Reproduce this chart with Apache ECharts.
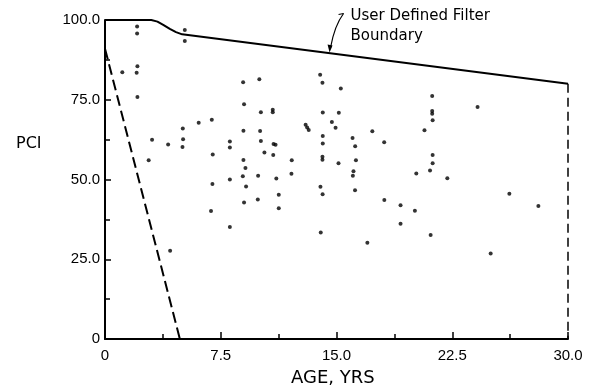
<!DOCTYPE html>
<html>
<head>
<meta charset="utf-8">
<script src="https://cdn.jsdelivr.net/npm/echarts/dist/echarts.min.js"></script>
<style>
  html, body { margin: 0; padding: 0; background: #fff; }
  #chart { width: 591px; height: 391px; }
</style>
</head>
<body>
<div id="chart"></div>
<script>
// pavement sections: age (yrs) vs PCI
const sectionPoints = [
  [1.12, 83.6], [2.08, 98.0], [2.08, 95.8], [2.10, 85.5], [2.05, 83.5], [2.10, 75.9],
  [2.83, 56.0], [3.05, 62.5], [4.09, 61.0], [4.22, 27.7],
  [5.17, 96.9], [5.17, 93.4], [5.04, 66.0], [5.06, 62.6], [5.02, 60.2],
  [6.07, 67.8], [6.92, 68.7], [6.98, 57.8], [6.96, 48.6], [6.87, 40.1],
  [8.09, 61.9], [8.09, 60.0], [8.09, 50.0], [8.09, 35.1],
  [8.95, 80.5], [9.01, 73.6], [8.97, 65.3], [8.97, 56.1], [9.10, 53.6], [8.93, 51.0],
  [9.14, 47.8], [9.01, 42.8],
  [10.0, 81.4], [10.05, 65.2], [10.1, 62.1], [9.92, 51.2], [9.90, 43.7], [10.1, 71.1],
  [10.87, 71.9], [10.87, 71.1], [10.92, 61.1], [11.05, 60.9], [10.33, 58.5], [10.9, 57.7],
  [11.1, 50.3], [11.26, 45.2], [11.26, 41.0],
  [12.1, 56.0], [12.08, 51.8],
  [13.0, 67.2], [13.1, 66.3], [13.2, 65.5],
  [13.94, 82.8], [14.09, 80.3], [15.28, 78.5], [14.11, 71.0], [15.15, 70.9],
  [14.7, 68.0], [14.94, 66.2], [17.32, 65.1], [14.11, 63.6], [14.11, 61.3],
  [16.04, 63.0], [16.21, 60.4], [18.09, 61.7], [14.09, 57.1], [14.09, 56.2],
  [15.13, 55.1], [16.26, 56.0], [16.1, 52.6], [16.06, 51.2], [20.17, 51.9],
  [13.96, 47.7], [14.1, 45.4], [16.2, 46.6], [18.1, 43.6], [19.15, 41.9], [20.08, 40.2],
  [13.98, 33.4], [17.0, 30.2], [19.15, 36.1],
  [21.2, 76.2], [24.14, 72.7], [21.2, 71.5], [21.2, 70.6], [21.23, 68.6], [20.7, 65.4],
  [21.23, 57.7], [21.23, 55.1], [21.06, 52.8], [22.18, 50.4], [21.1, 32.6],
  [24.99, 26.8], [26.2, 45.5], [28.08, 41.7]
];

// user defined filter boundary (upper)
const upperBoundary = [
  [0, 100], [3, 100], [3.4, 99.5], [3.8, 98.4], [4.2, 97.2], [4.6, 96.2], [5, 95.5], [30, 80]
];
// right edge of the filter
const rightBoundary = [[30, 80], [30, 0]];
// lower dashed boundary
const lowerBoundary = [[0, 91], [4.85, 0]];

const xTicks = [0, 7.5, 15, 22.5, 30];
const yTicks = [0, 25, 50, 75, 100];

const labelFont = { fontFamily: 'Liberation Sans', fontSize: 15, color: '#000' };

const myChart = echarts.init(document.getElementById('chart'));

const option = {
  animation: false,
  backgroundColor: '#fff',
  grid: { left: 105, right: 23, top: 20, bottom: 52 },
  xAxis: {
    type: 'value',
    min: xTicks[0],
    max: xTicks[xTicks.length - 1],
    interval: 7.5,
    splitLine: { show: false },
    axisLine: { show: true, lineStyle: { color: '#000', width: 2 } },
    axisTick: { show: true, inside: true, length: 7, lineStyle: { color: '#000', width: 1.5 } },
    minorTick: { show: true, splitNumber: 2, length: 5, lineStyle: { color: '#000', width: 1.5 } },
    axisLabel: {
      ...labelFont,
      margin: 9,
      formatter: v => (v === 0 ? '0' : v.toFixed(1))
    }
  },
  yAxis: {
    type: 'value',
    min: yTicks[0],
    max: yTicks[yTicks.length - 1],
    interval: 25,
    splitLine: { show: false },
    axisLine: { show: true, lineStyle: { color: '#000', width: 2 } },
    axisTick: { show: true, inside: true, length: 6, lineStyle: { color: '#000', width: 1.5 } },
    minorTick: { show: true, splitNumber: 2, length: 5, lineStyle: { color: '#000', width: 1.5 } },
    axisLabel: {
      ...labelFont,
      margin: 5,
      formatter: v => (v === 0 ? '0' : v.toFixed(1))
    }
  },
  series: [
    {
      type: 'scatter',
      data: sectionPoints,
      symbol: 'circle',
      symbolSize: 4,
      itemStyle: { color: '#000' }
    },
    {
      type: 'line',
      data: upperBoundary,
      showSymbol: false,
      smooth: false,
      lineStyle: { color: '#000', width: 2 }
    },
    {
      type: 'line',
      data: rightBoundary,
      showSymbol: false,
      lineStyle: { color: '#000', width: 1.5, type: [9, 5] }
    },
    {
      type: 'line',
      data: lowerBoundary,
      showSymbol: false,
      lineStyle: { color: '#000', width: 2, type: [11, 5] }
    }
  ]
};

myChart.setOption(option);

// annotation + axis names, anchored on the boundary line
const tip = myChart.convertToPixel({ gridIndex: 0 }, [14.55, 89.5]);
const leadTop = [tip[0] + 14, tip[1] - 40];
myChart.setOption({
  graphic: [
    {
      type: 'text',
      left: 16, top: 136,
      style: { text: 'PCI', font: '16px "DejaVu Sans"', fill: '#000' }
    },
    {
      type: 'text',
      left: 291, top: 369,
      style: { text: 'AGE, YRS', font: '18px "DejaVu Sans"', fill: '#000' }
    },
    {
      type: 'text',
      left: tip[0] + 21, top: tip[1] - 47,
      style: {
        text: 'User Defined Filter\nBoundary',
        font: '15px "DejaVu Sans"',
        lineHeight: 20,
        fill: '#000'
      }
    },
    {
      type: 'polyline',
      shape: { points: [[leadTop[0] - 5, leadTop[1] + 1], leadTop] },
      style: { stroke: '#000', lineWidth: 1.2 }
    },
    {
      type: 'bezierCurve',
      shape: {
        x1: leadTop[0], y1: leadTop[1],
        cpx1: tip[0] + 5, cpy1: tip[1] - 28,
        x2: tip[0] + 1, y2: tip[1] - 6
      },
      style: { stroke: '#000', lineWidth: 1.2, fill: null }
    },
    {
      type: 'polygon',
      shape: { points: [[tip[0], tip[1] - 1], [tip[0] - 2, tip[1] - 9], [tip[0] + 3, tip[1] - 8]] },
      style: { fill: '#000' }
    }
  ]
});

window.addEventListener('resize', myChart.resize);
</script>
</body>
</html>
